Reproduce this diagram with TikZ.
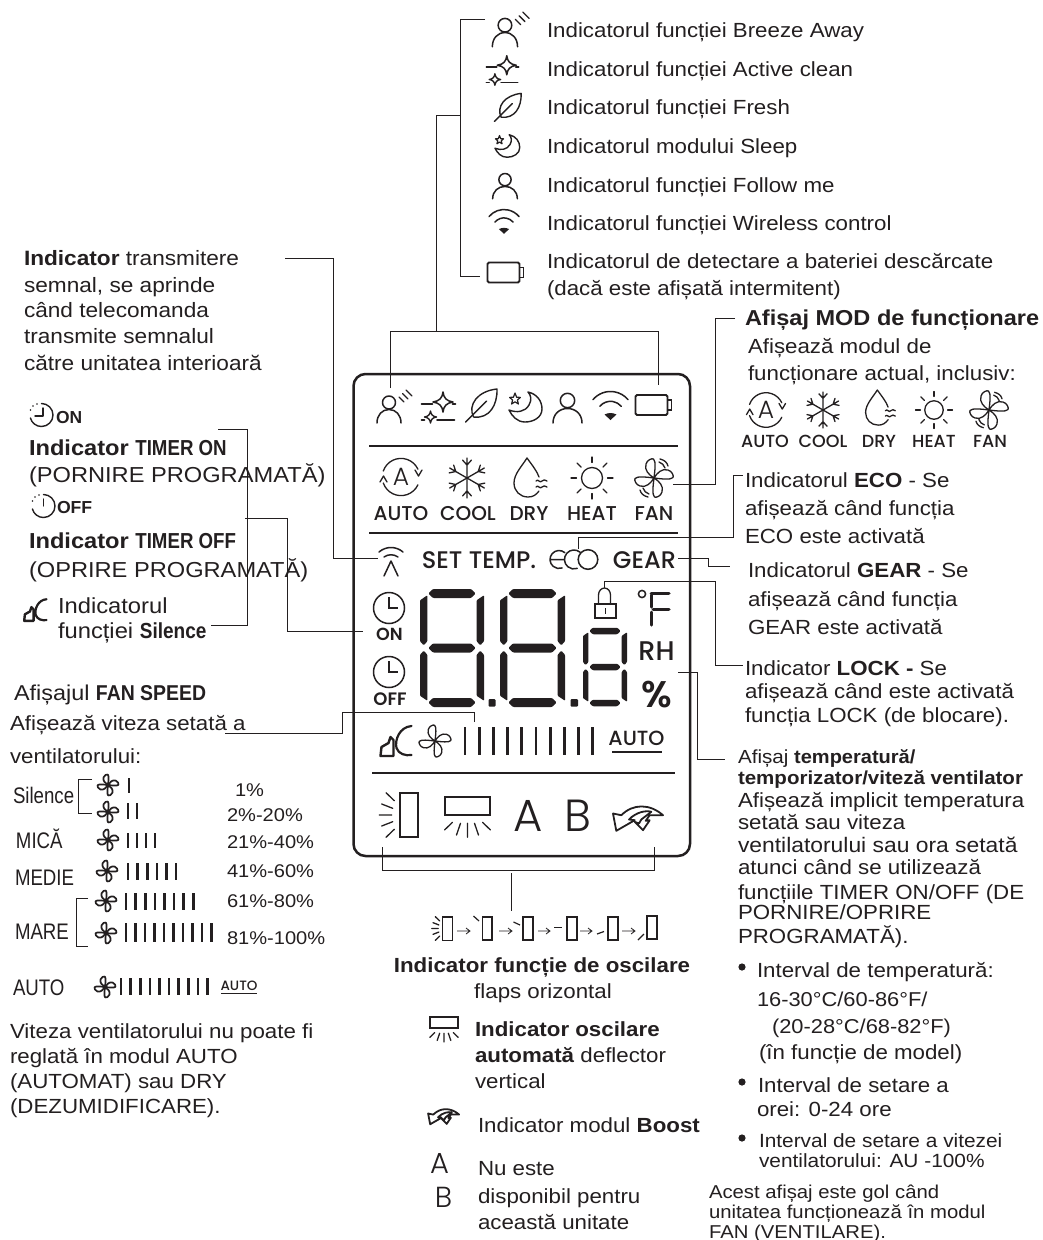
\documentclass[tikz,border=0pt]{standalone}
\usepackage{fontspec}
\usepackage{graphicx}
\setmainfont[FakeStretch=1.09,Scale=1.023]{Liberation Sans}
\newfontfamily\pop{Poppins Medium}
\newfontfamily\popb{Poppins SemiBold}
\newfontfamily\popl{Poppins Light}
\definecolor{ink}{HTML}{231F20}
\newcommand\nb[2][.79]{\scalebox{#1}[1]{\bfseries #2}}
\newcommand\nr[2][.76]{\scalebox{#1}[1]{#2}}
\newcommand\fs[1]{\fontsize{#1}{#1}\selectfont}
\tikzset{
 x=1pt,y=-1pt,
 txt/.style={anchor=base west,inner sep=0pt,outer sep=0pt,text=ink,font=\fs{20}},
 ctr/.style={anchor=base,inner sep=0pt,outer sep=0pt,text=ink},
 lbl/.style={ctr,font=\pop\fs{20}},
 lbm/.style={ctr,font=\pop\fs{17.5}},
 conn/.style={draw=ink,line width=1pt},
 ic/.style={draw=ink,line width=1.3pt,line cap=round,line join=round},
 icf/.style={fill=ink,draw=none},
 person/.pic={
   \draw[ic,line width=1.5pt] (0,-7.5) circle (7.2);
   \draw[ic,line width=1.5pt] (-14.5,15) .. controls (-14.5,6) and (-8,0.5) .. (0,0.5) .. controls (8,0.5) and (14.5,6) .. (14.5,15);
 },
 breeze/.pic={
   \draw[ic,line width=1.5pt] (-1,-5.5) circle (6.5);
   \draw[ic,line width=1.5pt] (-13,15) .. controls (-13,7) and (-8,1.5) .. (-1,1.5) .. controls (6,1.5) and (11,7) .. (11,15);
   \draw[ic] (9,-11) -- (14,-6);
   \draw[ic] (12.5,-14.5) -- (18,-9);
   \draw[ic] (16,-18) -- (22,-12);
 },
 sparkle/.pic={
   \draw[ic,line width=1.5pt] (4.5,-15) .. controls (5.2,-9) and (8,-6) .. (14.5,-5) .. controls (8,-4) and (5.2,-1) .. (4.5,5) .. controls (3.8,-1) and (1,-4) .. (-5.5,-5) .. controls (1,-6) and (3.8,-9) .. cycle;
   \draw[ic,line width=1.4pt] (-8,4) .. controls (-7.6,7.5) and (-5.5,9.6) .. (-2,10) .. controls (-5.5,10.4) and (-7.6,12.5) .. (-8,16) .. controls (-8.4,12.5) and (-10.5,10.4) .. (-14,10) .. controls (-10.5,9.6) and (-8.4,7.5) .. cycle;
   \draw[ic,line width=1.6pt] (-17,-3) -- (-6,-3) (14,-3) -- (17,-3);
   \draw[ic,line width=1.6pt] (-1.5,13) -- (16,13) (-17,13) -- (-14,13);
 },
 leaf/.pic={
   \draw[ic,line width=1.4pt] (-8,12) .. controls (-14,0) and (-4,-14) .. (15.5,-16) .. controls (16,0) and (8,14) .. (-8,12) -- cycle;
   \draw[ic,line width=1.4pt] (-16,17) -- (5,-4);
 },
 moon/.pic={
   \draw[ic,line width=1.4pt] (3,-15) .. controls (12,-13) and (17,-6) .. (17,2) .. controls (17,10) and (9,15) .. (0,15) .. controls (-8,15) and (-13,9) .. (-16,3) .. controls (-8,6) and (0,5) .. (4,-2) .. controls (7,-7) and (6,-12) .. cycle;
   \draw[ic,line width=1.2pt] (-10,-14) -- (-8.4,-9.8) -- (-4.6,-9.6) -- (-7.6,-7) -- (-6.6,-3) -- (-10,-5.2) -- (-13.4,-3) -- (-12.4,-7) -- (-15.4,-9.6) -- (-11.6,-9.8) -- cycle;
 },
 wifi/.pic={
   \draw[ic,line width=1.5pt] (-17.6,-8.8) arc (220:320:23);
   \draw[ic,line width=1.5pt] (-10.7,-2.2) arc (220:320:14);
   \fill[ink] (0,11.5) -- (-6,6) .. controls (-2,4) and (2,4) .. (6,6) -- cycle;
 },
 battery/.pic={
   \draw[draw=ink,line width=1.8pt,rounded corners=1.5pt] (-18,-10) rectangle (14,10);
   \draw[draw=ink,line width=1.5pt] (14,-5) -- (18,-5) -- (18,5) -- (14,5);
 },
 auto/.pic={
   \draw[ic] (-17.7,-6) arc (199:335:18.7);
   \draw[ic] (-17.7,6) arc (161:25:18.7);
   \draw[ic] (-21,5) -- (-17.5,-1) -- (-14,5);
   \draw[ic] (14,-7) -- (17.5,-1) -- (21,-7);
   \node[inner sep=0pt,text=ink,font=\popl\fs{25}] (glyph) at (0,0) {A};
 },
 snow/.pic={
   \foreach \a in {0,60,...,300}{
     \draw[ic,rotate=\a] (0,0) -- (0,-20) (-4.5,-18) -- (0,-13) -- (4.5,-18);
   }
 },
 drop/.pic={
   \draw[ic] (9,13) .. controls (6,17) and (3,19) .. (-2,19) .. controls (-10,19) and (-16,13) .. (-16,5) .. controls (-16,-4) and (-8,-12) .. (-3,-20) .. controls (2,-13) and (7,-7) .. (9,-1);
   \draw[ic] (6,3) .. controls (8,0) and (10,6) .. (12,3) .. controls (13.5,1) and (15,2) .. (17,3);
   \draw[ic] (6,9) .. controls (8,6) and (10,12) .. (12,9) .. controls (13.5,7) and (15,8) .. (17,9);
 },
 sun/.pic={
   \draw[ic] (0,0) circle (10.5);
   \foreach \a in {0,45,...,315}{ \draw[ic,rotate=\a] (15.5,0) -- (21,0); }
 },
 fanblades/.pic={
   \foreach \a in {0,90,180,270}{
     \draw[ic,rotate=\a] (0,0) .. controls (-5,-3) and (-10,-8) .. (-8,-14) .. controls (-7,-18) and (-2,-20) .. (-0.5,-19) .. controls (2,-17) and (1,-8) .. cycle;
   }
 },
 fanrow/.pic={
   \foreach \a in {0,90,180,270}{
     \draw[ic,line width=1.7pt,rotate=\a] (0,0) .. controls (-5,-3) and (-10,-8) .. (-8,-14) .. controls (-7,-18) and (-2,-20) .. (-0.5,-19) .. controls (2,-17) and (1,-8) .. cycle;
   }
 },
 fanbig/.pic={
   \pic {fanblades};
   \draw[ic] (5,-16) .. controls (8,-15) and (10,-13) .. (11,-10);
   \draw[ic] (6,-19) .. controls (10,-18) and (13,-16) .. (14,-12);
   \draw[ic] (-5,16) .. controls (-8,15) and (-10,13) .. (-11,10);
   \draw[ic] (-6,19) .. controls (-10,18) and (-13,16) .. (-14,12);
 },
 silence/.pic={
   \draw[ic,line width=2.4pt] (-15,15) -- (-14,6) -- (-7,2) -- (-5,-4) -- (-2,-1) -- (-2,15) -- cycle;
   \draw[ic,line width=2.2pt] (16,-15) .. controls (4,-14) and (-1,-1) .. (1,7) .. controls (3,13) and (10,15) .. (16,14);
 },
 boost/.pic={
   \draw[ic,line width=1.8pt] (26,-2.3) .. controls (12.7,-14) and (-4,-14) .. (-15.7,-2.3) -- (-24,-4) -- (-20.7,13.3) -- (-2.3,2.7) -- (-8,2) .. controls (-0.7,-5.7) and (9.3,-7.3) .. (14.3,-5.7) -- (4.3,2) -- (2,6) -- (-2.3,4.3) -- (6,12.7) -- (12.7,2.7) -- (8.7,3.3) -- (12.7,-2.3) -- cycle;
 },
 clockbig/.pic={
   \draw[draw=ink,line width=1.5pt] (0,0) circle (15.5);
   \draw[draw=ink,line width=1.5pt] (0,-11) -- (0,0) -- (9,0);
 },
 acunit/.pic={
   \draw[draw=ink,line width=1.3pt] (-22.5,-13) rectangle (22.5,5);
   \draw[ic] (-23,20) -- (-15,12.3) (-11,25) -- (-7,13.3) (0,27.3) -- (0,13.3) (11,25) -- (7,13.3) (23,20) -- (15,12.3);
 },
 louver/.pic={
   \draw[draw=ink,line width=1.3pt] (-9,-22) rectangle (9,22);
   \draw[ic] (-23,-22.3) -- (-14.7,-14.3) (-27.3,-11) -- (-16.3,-6.7) (-29.7,0) -- (-17.3,0) (-27.3,11) -- (-16.3,6.7) (-23,22.3) -- (-14.7,14.3);
 },
}
% digit: left right top mid bottom thickness
\newcommand\digit[6]{%
 \pgfmathsetmacro\tt{#6}\pgfmathsetmacro\hh{\tt/2}\pgfmathsetmacro\vw{\tt*.82}
 \foreach \yy in {#3,#4,#5}{
  \fill[ink,rounded corners=1pt] ({#1+\vw+1},\yy) -- ({#1+\vw+1+\hh},{\yy-\hh}) -- ({#2-\vw-1-\hh},{\yy-\hh}) -- ({#2-\vw-1},\yy) -- ({#2-\vw-1-\hh},{\yy+\hh}) -- ({#1+\vw+1+\hh},{\yy+\hh}) -- cycle;
 }
 \foreach \xx in {#1,{#2-\vw}}{
  \fill[ink,rounded corners=.8pt] (\xx,{#3+\tt*.75}) -- ({\xx+\vw},{#3+\tt*.2}) -- ({\xx+\vw},{#4-\tt*.75}) -- ({\xx+\vw*.5},{#4-\tt*.3}) -- (\xx,{#4-\tt*.75}) -- cycle;
  \fill[ink,rounded corners=.8pt] (\xx,{#4+\tt*.75}) -- ({\xx+\vw*.5},{#4+\tt*.3}) -- ({\xx+\vw},{#4+\tt*.75}) -- ({\xx+\vw},{#5-\tt*.2}) -- (\xx,{#5-\tt*.75}) -- cycle;
 }
}
\newcommand\barset[6]{\foreach \i in {1,...,#3}{\draw[draw=ink,line width=#6pt] ({#1+(\i-1)*#2},#4) -- ({#1+(\i-1)*#2},#5);}}
\begin{document}
\begin{tikzpicture}[x=1pt,y=-1pt]
\useasboundingbox (0,0) rectangle (1042,1240);
\fill[white] (0,0) rectangle (1042,1240);

% ---------- display frame
\draw[draw=ink,line width=2.5pt,rounded corners=12pt] (353.5,374) rectangle (690,856);
\draw[draw=ink,line width=1.8pt] (369,446) -- (678,446);
\draw[draw=ink,line width=1.8pt] (369,533) -- (678,533);
\draw[draw=ink,line width=1.8pt] (372,773) -- (675,773);

% ---------- display top row
\pic at (390,408) {breeze};
\pic at (438.5,407) {sparkle};
\pic at (481.5,405) {leaf};
\pic at (525,407) {moon};
\pic at (567.5,408) {person};
\pic at (610.5,408.5) {wifi};
\pic at (653.5,405) {battery};

% ---------- display mode row
\pic at (401,477) {auto};
\pic at (467,478) {snow};
\pic at (530,478) {drop};
\pic at (592,478) {sun};
\pic at (654,478) {fanbig};
\node[lbl] (dAuto) at (401,520) {AUTO};
\node[lbl] (dCool) at (468,520) {COOL};
\node[lbl] (dDry) at (529,520) {DRY};
\node[lbl] (dHeat) at (592,520) {HEAT};
\node[lbl] (dFan) at (654,520) {FAN};

% ---------- signal / SET TEMP / eco / gear
\draw[ic,line width=1.5pt] (379,552) .. controls (386,546) and (396,546) .. (403,552);
\draw[ic,line width=1.5pt] (384,557) .. controls (388,554) and (394,554) .. (398,557);
\draw[ic,line width=1.5pt] (384,576) -- (391,561) -- (398,576);
\node[ctr,font=\pop\fs{24}] (setTemp) at (479,568) {SET TEMP.};
\draw[ic,line width=1.5pt] (551,559.5) -- (564,559.5) (564.8,552.6) arc (-50:-290:9);
\draw[ic,line width=1.5pt] (580.1,552.2) arc (-50:-290:9.5);
\draw[ic,line width=1.5pt] (588,559.5) circle (9.8);
\node[ctr,font=\pop\fs{24}] (gear) at (644.5,568) {GEAR};

% ---------- clocks
\pic at (389,608) {clockbig};
\node[ctr,font=\popb\fs{17.5}] (cOn) at (389.5,640) {ON};
\pic at (389,672) {clockbig};
\node[ctr,font=\popb\fs{18}] (cOff) at (390,705) {OFF};

% ---------- digits
\digit{420}{484}{593.5}{648}{702.5}{9}
\digit{500}{565}{593.5}{648}{702.5}{9}
\digit{583}{627}{631}{667}{703}{6.5}
\fill[ink,rounded corners=1pt] (488.5,699) rectangle (495.5,706.5);
\fill[ink,rounded corners=1pt] (570.5,699) rectangle (578,706.5);

% ---------- lock, degF, RH, %
\draw[draw=ink,line width=1.3pt] (595,604) rectangle (616,618);
\draw[draw=ink,line width=1.3pt] (598.5,604) -- (598.5,595) arc (180:360:6 and 7) -- (610.5,604);
\draw[draw=ink,line width=1.3pt] (605.5,608) -- (605.5,614);
\draw[draw=ink,line width=1.5pt] (642,594) circle (3.6);
\draw[draw=ink,line width=3pt,line cap=round] (651,593) -- (669,593) (651,595) -- (651,607) (653,609) -- (669,609) (651,612) -- (651,625);
\node[ctr,font=\pop\fs{27}] (rh) at (656.5,660) {RH};
\node[ctr,font=\popb\fs{37}] (pct) at (657,707) {\%};

% ---------- fan speed row
\pic at (395.5,741) {silence};
\pic[scale=.83] at (435,741) {fanblades};
\barset{465}{14.2}{10}{727}{755}{2.8}
\node[ctr,font=\pop\fs{20.5}] (dAutoB) at (636.5,745) {AUTO};
\draw[draw=ink,line width=1.7pt] (612,752) -- (662,752);

% ---------- bottom row
\pic at (409,815) {louver};
\pic at (467.5,810) {acunit};
\node[ctr,font=\popl\fs{45}] (letA) at (528,831) {A};
\node[ctr,font=\popl\fs{45}] (letB) at (578,831) {B};
\pic at (637,817.5) {boost};

% ---------- swing sequence below
\coordinate (br1) at (382,847); \coordinate (br2) at (382,870); \coordinate (br3) at (654,870); \coordinate (br4) at (654,847);
\coordinate (st1) at (511,873); \coordinate (st2) at (511,911);
\draw[conn] (br1) -- (br2) -- (br3) -- (br4);
\draw[conn] (st1) -- (st2);
\pic[scale=.53] at (447.5,928.5) {louver};
\draw[draw=ink,line width=1.1pt] (482.5,917) rectangle (492,940);
\draw[draw=ink,line width=1.1pt] (523,917) rectangle (533,940);
\draw[draw=ink,line width=1.1pt] (567,917) rectangle (577,940);
\draw[draw=ink,line width=1.1pt] (608,917) rectangle (618,940);
\draw[draw=ink,line width=1.1pt] (647,916) rectangle (657,939);
\draw[draw=ink,line width=1.2pt] (473.5,916) -- (479,921);
\draw[draw=ink,line width=1.2pt] (513.5,922) -- (520,925);
\draw[draw=ink,line width=1.4pt] (554,927.5) -- (562,927.5);
\draw[draw=ink,line width=1.2pt] (597,934) -- (604,931.5);
\draw[draw=ink,line width=1.2pt] (638,940) -- (644,934);
\foreach \a/\b in {457/470,499/512,538/550,580/592,622/635}{
  \draw[draw=ink,line width=.8pt] (\a,931) -- (\b,931) (\b-4,928) -- (\b,931) -- (\b-4,934);
}

% ---------- top list
\coordinate (tl1) at (485,19); \coordinate (tl2) at (460,19); \coordinate (tl3) at (460,276); \coordinate (tl4) at (480,276);
\draw[conn] (tl1) -- (tl2) -- (tl3) -- (tl4);
\coordinate (tb0) at (460,115); \coordinate (tb1) at (436,115); \coordinate (tb2) at (436,331);
\coordinate (tb3) at (390,331); \coordinate (tb4) at (390,388); \coordinate (tb5) at (658,331); \coordinate (tb6) at (658,385);
\draw[conn] (tb0) -- (tb1) -- (tb2);
\draw[conn] (tb4) -- (tb3) -- (tb5) -- (tb6);
\pic[scale=1.05] at (506,31) {breeze};
\pic[scale=.95] at (502.5,70) {sparkle};
\pic[scale=.85] at (508,107) {leaf};
\pic[scale=.75] at (507,146) {moon};
\pic[scale=.85] at (505,186) {person};
\pic[scale=.85] at (504,224) {wifi};
\pic at (505.5,272.5) {battery};
\node[txt] (l1) at (547,37) {Indicatorul funcției Breeze Away};
\node[txt] (l2) at (547,76) {Indicatorul funcției Active clean};
\node[txt] (l3) at (547,114) {Indicatorul funcției Fresh};
\node[txt] (l4) at (547,153) {Indicatorul modului Sleep};
\node[txt] (l5) at (547,192) {Indicatorul funcției Follow me};
\node[txt] (l6) at (547,230) {Indicatorul funcției Wireless control};
\node[txt] (l7) at (547,268) {Indicatorul de detectare a bateriei descărcate};
\node[txt] (l8) at (547,295) {(dacă este afișată intermitent)};

% ---------- left: signal
\node[txt,font=\fs{20.3}] (s1) at (24,265) {\textbf{Indicator} transmitere};
\node[txt,font=\fs{20.3}] (s2) at (24,292) {semnal, se aprinde};
\node[txt,font=\fs{20.3}] (s3) at (24,317) {când telecomanda};
\node[txt,font=\fs{20.3}] (s4) at (24,343) {transmite semnalul};
\node[txt,font=\fs{20.3}] (s5) at (24,370) {către unitatea interioară};
\coordinate (sg1) at (285,258); \coordinate (sg2) at (333,258); \coordinate (sg3) at (333,558.5); \coordinate (sg4) at (378,558.5);
\draw[conn] (sg1) -- (sg2) -- (sg3) -- (sg4);

% ---------- left: timers
\draw[ic,line width=1.4pt] (41.5,403.5) arc (-90:165:11.5);
\fill[ink] (33,406) circle (.9) (30.5,410) circle (.9) (37,404) circle (.9);
\draw[ic,line width=1.4pt] (43,408) -- (43,416) -- (35,416);
\node[txt,font=\bfseries\fs{17}] (onT) at (56,423) {\nb[.92]{ON}};
\node[txt,font=\fs{21.2}] (tOn) at (29,455) {\textbf{Indicator} \nb{TIMER ON}};
\node[txt,font=\fs{21.2}] (tOn2) at (29,482) {(PORNIRE PROGRAMATĂ)};
\draw[ic,line width=1.4pt] (43.5,494.5) arc (-90:165:11.5);
\fill[ink] (35,497) circle (.9) (32.5,501) circle (.9) (39,495) circle (.9);
\draw[ic,line width=1.4pt] (43.5,499) -- (43.5,506);
\node[txt,font=\bfseries\fs{17}] (offT) at (57,513) {\nb[.93]{OFF}};
\node[txt,font=\fs{21.2}] (tOff) at (29,548) {\textbf{Indicator} \nb{TIMER OFF}};
\node[txt,font=\fs{21.2}] (tOff2) at (29,577) {(OPRIRE PROGRAMATĂ)};
\pic[scale=.72] at (35,610) {silence};
\node[txt,font=\fs{21.3}] (sil1) at (58,613) {Indicatorul};
\node[txt,font=\fs{21.3}] (sil2) at (58,638) {funcției \nb[.8]{Silence}};
\coordinate (si1) at (211,625); \coordinate (si2) at (247,625); \coordinate (si3) at (247,429); \coordinate (si4) at (218,429);
\draw[conn] (si1) -- (si2) -- (si3) -- (si4);
\coordinate (to1) at (245,518); \coordinate (to2) at (287,518); \coordinate (to3) at (287,631); \coordinate (to4) at (363,631);
\draw[conn] (to1) -- (to2) -- (to3) -- (to4);

% ---------- left: fan speed
\node[txt,font=\fs{21}] (f1) at (14,700) {Afișajul \nb[.83]{FAN SPEED}};
\node[txt] (f2) at (10,730) {Afișează viteza setată a};
\node[txt] (f3) at (10,763) {ventilatorului:};
\coordinate (fc1) at (474,722); \coordinate (fc2) at (474,712); \coordinate (fc3) at (342,712); \coordinate (fc4) at (342,733); \coordinate (fc5) at (225,733);
\draw[conn] (fc1) -- (fc2) -- (fc3) -- (fc4) -- (fc5);

\node[txt,font=\fs{22}] (r1) at (13,803) {\nr{Silence}};
\draw[conn] (92,779) -- (78,779) -- (78,813) -- (92,813);
\pic[scale=.55] at (108,785) {fanrow};
\barset{129}{9}{1}{778}{793}{2.6}
\pic[scale=.55] at (108,812) {fanrow};
\barset{128}{9}{2}{803}{819}{2.6}
\node[txt,font=\fs{18}] (p1) at (235,796) {1\%};
\node[txt,font=\fs{18}] (p2) at (227,821) {2\%-20\%};
\node[txt,font=\fs{22}] (r2) at (16,848) {\nr{MICĂ}};
\pic[scale=.55] at (108,840) {fanrow};
\barset{128}{9}{4}{833}{848}{2.6}
\node[txt,font=\fs{18}] (p3) at (227,848) {21\%-40\%};
\node[txt,font=\fs{22}] (r3) at (15,885) {\nr{MEDIE}};
\pic[scale=.55] at (107,871) {fanrow};
\barset{128}{9.6}{6}{863}{880}{2.6}
\node[txt,font=\fs{18}] (p4) at (227,877) {41\%-60\%};
\draw[conn] (88,898) -- (76,898) -- (76,946) -- (88,946);
\pic[scale=.55] at (106,901) {fanrow};
\barset{126}{9.6}{8}{893}{910}{2.6}
\node[txt,font=\fs{18}] (p5) at (227,907) {61\%-80\%};
\node[txt,font=\fs{22}] (r5) at (15,939) {\nr{MARE}};
\pic[scale=.55] at (106,933) {fanrow};
\barset{126}{9.5}{10}{923}{942}{2.6}
\node[txt,font=\fs{18}] (p6) at (227,944) {81\%-100\%};
\node[txt,font=\fs{22}] (r6) at (13,995) {\nr{AUTO}};
\pic[scale=.55] at (105,987) {fanrow};
\barset{121}{9.6}{10}{978}{995}{2.6}
\node[ctr,font=\pop\fs{13.5}] (autoS) at (239,990) {AUTO};
\draw[draw=ink,line width=1.2pt] (221,993.5) -- (257,993.5);
\node[txt] (v1) at (10,1038) {Viteza ventilatorului nu poate fi};
\node[txt] (v2) at (10,1063) {reglată în modul AUTO};
\node[txt] (v3) at (10,1088) {(AUTOMAT) sau DRY};
\node[txt] (v4) at (10,1113) {(DEZUMIDIFICARE).};

% ---------- right: mode
\node[txt,font=\bfseries\fs{21.1}] (m1) at (745,325) {Afișaj MOD de funcționare};
\node[txt] (m2) at (748,353) {Afișează modul de};
\node[txt] (m3) at (748,380) {funcționare actual, inclusiv:};
\coordinate (mc1) at (735,318); \coordinate (mc2) at (715,318); \coordinate (mc3) at (715,484.5); \coordinate (mc4) at (673,484.5);
\draw[conn] (mc1) -- (mc2) -- (mc3) -- (mc4);
\pic[scale=.93] at (766,410) {auto};
\pic[scale=.9] at (823,410) {snow};
\pic[scale=.9] at (880,408) {drop};
\pic[scale=.88] at (934,410) {sun};
\pic[scale=.93] at (989,410) {fanbig};
\node[lbm] (mAuto) at (765,447) {AUTO};
\node[lbm] (mCool) at (823,447) {COOL};
\node[lbm] (mDry) at (879,447) {DRY};
\node[lbm] (mHeat) at (934,447) {HEAT};
\node[lbm] (mFan) at (990,447) {FAN};

% ---------- right: eco, gear, lock, temp
\node[txt] (e1) at (745,487) {Indicatorul \textbf{ECO} - Se};
\node[txt] (e2) at (745,515) {afișează când funcția};
\node[txt] (e3) at (745,543) {ECO este activată};
\coordinate (ec1) at (578,549); \coordinate (ec2) at (578,537.5); \coordinate (ec3) at (733,537.5); \coordinate (ec4) at (733,475); \coordinate (ec5) at (743,475);
\draw[conn] (ec1) -- (ec2) -- (ec3) -- (ec4) -- (ec5);
\node[txt] (g1) at (748,577) {Indicatorul \textbf{GEAR} - Se};
\node[txt] (g2) at (748,606) {afișează când funcția};
\node[txt] (g3) at (748,634) {GEAR este activată};
\coordinate (gc1) at (678,558); \coordinate (gc2) at (708,558); \coordinate (gc3) at (708,566); \coordinate (gc4) at (730,566);
\draw[conn] (gc1) -- (gc2) -- (gc3) -- (gc4);
\node[txt] (k1) at (745,675) {Indicator \textbf{LOCK -} Se};
\node[txt] (k2) at (745,698) {afișează când este activată};
\node[txt] (k3) at (745,722) {funcția LOCK (de blocare).};
\coordinate (kc1) at (604,588); \coordinate (kc2) at (604,581); \coordinate (kc3) at (715,581); \coordinate (kc4) at (715,665); \coordinate (kc5) at (743,665);
\draw[conn] (kc1) -- (kc2) -- (kc3) -- (kc4) -- (kc5);
\node[txt,font=\fs{18.5}] (d1) at (738,763) {Afișaj \nb[.97]{temperatură/}};
\node[txt,font=\bfseries\fs{18.4}] (d2) at (738,784) {temporizator/viteză ventilator};
\node[txt] (d3) at (738,807) {Afișează implicit temperatura};
\node[txt] (d4) at (738,829) {setată sau viteza};
\node[txt,font=\fs{20.5}] (d5) at (738,852) {ventilatorului sau ora setată};
\node[txt] (d6) at (738,874) {atunci când se utilizează};
\node[txt] (d7) at (738,899) {funcțiile TIMER ON/OFF (DE};
\node[txt] (d8) at (738,919) {PORNIRE/OPRIRE};
\node[txt] (d9) at (738,943) {PROGRAMATĂ).};
\coordinate (tc1) at (678,672.5); \coordinate (tc2) at (697,672.5); \coordinate (tc3) at (697,759); \coordinate (tc4) at (725,759);
\draw[conn] (tc1) -- (tc2) -- (tc3) -- (tc4);

\fill[ink] (742,967) circle (3.6);
\node[txt] (b1) at (757,977) {Interval de temperatură:};
\node[txt,font=\fs{19.6}] (b2) at (757,1006) {16-30°C/60-86°F/};
\node[txt,font=\fs{19.6}] (b3) at (772,1033) {(20-28°C/68-82°F)};
\node[txt] (b4) at (759,1059) {(în funcție de model)};
\fill[ink] (742,1082) circle (3.6);
\node[txt] (b5) at (758,1092) {Interval de setare a};
\node[txt] (b6) at (757,1116) {orei: 0-24 ore};
\fill[ink] (742,1138) circle (3.6);
\node[txt,font=\fs{18.7}] (b7) at (759,1147) {Interval de setare a vitezei};
\node[txt,font=\fs{18.7}] (b8) at (759,1167) {ventilatorului: AU -100\%};
\node[txt,font=\fs{18.2}] (b9) at (709,1198) {Acest afișaj este gol când};
\node[txt,font=\fs{18.2}] (b10) at (709,1218) {unitatea funcționează în modul};
\node[txt,font=\fs{18.2}] (b11) at (709,1238) {FAN (VENTILARE).};

% ---------- bottom centre
\node[ctr,font=\bfseries\fs{20}] (o1) at (542,972) {Indicator funcție de oscilare};
\node[ctr,font=\fs{20}] (o2) at (543,998) {flaps orizontal};
\pic[scale=.62] at (444,1025) {acunit};
\node[txt] (o3) at (475,1036) {\textbf{Indicator oscilare}};
\node[txt] (o4) at (475,1062) {\textbf{automată} deflector};
\node[txt] (o5) at (475,1088) {vertical};
\pic[scale=.62] at (443,1116) {boost};
\node[txt] (o6) at (478,1132) {Indicator modul \textbf{Boost}};
\node[ctr,font=\popl\fs{29}] (oA) at (439.5,1173) {A};
\node[ctr,font=\popl\fs{29}] (oB) at (443.5,1207) {B};
\node[txt] (o7) at (478,1175) {Nu este};
\node[txt] (o8) at (478,1203) {disponibil pentru};
\node[txt] (o9) at (478,1229) {această unitate};
\end{tikzpicture}
\end{document}
